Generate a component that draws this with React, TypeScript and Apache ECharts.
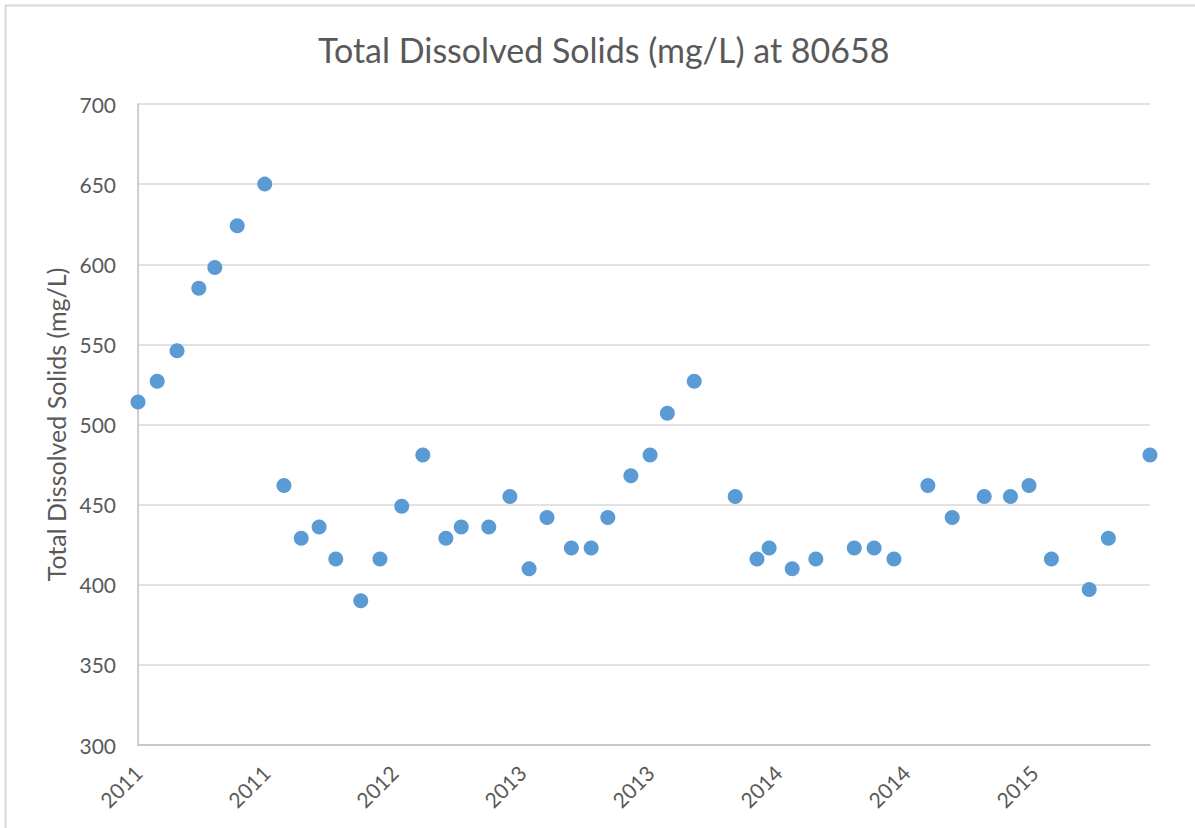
import React, { useEffect, useRef } from "react";
import * as echarts from "echarts";

// Days since first sample (x) and Total Dissolved Solids in mg/L (y)
const sampleDays = [
  0, 30, 61, 95, 120, 155, 198, 228, 255, 283, 309, 348, 378, 412, 445, 481, 505,
  548, 581, 611, 639, 677, 708, 734, 770, 800, 827, 869, 933, 967, 986, 1022, 1059,
  1119, 1150, 1181, 1234, 1272, 1322, 1363, 1392, 1427, 1486, 1516, 1581,
];
const tdsValues = [
  514, 527, 546, 585, 598, 624, 650, 462, 429, 436, 416, 390, 416, 449, 481, 429, 436,
  436, 455, 410, 442, 423, 423, 442, 468, 481, 507, 527, 455, 416, 423, 410, 416,
  423, 423, 416, 462, 442, 455, 455, 462, 416, 397, 429, 481,
];
const xTickLabels = ["2011", "2011", "2012", "2013", "2013", "2014", "2014", "2015"];
const xInterval = 200;
const xMax = 1581;

const FONT = "Lato, 'Open Sans', sans-serif";
const TEXT = "#595959";

export default function App() {
  const ref = useRef<HTMLDivElement>(null);
  useEffect(() => {
    document.body.style.margin = "0";
    const chart = echarts.init(ref.current!, undefined, { renderer: "svg" });
    chart.setOption({
      animation: false,
      backgroundColor: "#ffffff",
      title: {
        text: "Total Dissolved Solids (mg/L) at 80658",
        left: 313,
        top: 27,
        textStyle: { fontFamily: FONT, fontSize: 34, fontWeight: "normal", color: TEXT },
      },
      graphic: [
        {
          type: "rect",
          shape: { x: 5.5, y: 5.5, width: 1200, height: 840 },
          style: { fill: "none", stroke: "#d9d9d9", lineWidth: 2 },
          silent: true,
        },
      ],
      grid: { left: 138, right: 45, top: 104, bottom: 83 },
      xAxis: {
        type: "value",
        min: 0,
        max: xMax,
        interval: xInterval,
        axisLine: { show: true, lineStyle: { color: "#bfbfbf", width: 1.5 } },
        axisTick: { show: false },
        splitLine: { show: false },
        axisLabel: {
          rotate: 45,
          margin: 24,
          fontFamily: FONT,
          fontSize: 21,
          color: TEXT,
          showMaxLabel: false,
          formatter: (v: number) => {
            const i = Math.round(v / xInterval);
            return Math.abs(v - i * xInterval) < 1e-6 ? xTickLabels[i] ?? "" : "";
          },
        },
      },
      yAxis: {
        type: "value",
        min: 300,
        max: 700,
        interval: 50,
        name: "Total Dissolved Solids (mg/L)",
        nameLocation: "middle",
        nameGap: 65,
        nameTextStyle: { fontFamily: FONT, fontSize: 25, color: TEXT },
        axisLine: { show: true, lineStyle: { color: "#bfbfbf", width: 1.5 } },
        axisTick: { show: false },
        splitLine: { show: true, lineStyle: { color: "#d9d9d9", width: 1.5 } },
        axisLabel: { fontFamily: FONT, fontSize: 21, color: TEXT, margin: 22 },
      },
      series: [
        {
          type: "scatter",
          data: sampleDays.map((d, i) => [d, tdsValues[i]]),
          symbol: "circle",
          symbolSize: 15,
          itemStyle: { color: "#5b9bd5", borderColor: "#ffffff", borderWidth: 0, opacity: 1 },
        },
      ],
    });
    return () => chart.dispose();
  }, []);
  return <div ref={ref} style={{ width: 1195, height: 828 }} />;
}
